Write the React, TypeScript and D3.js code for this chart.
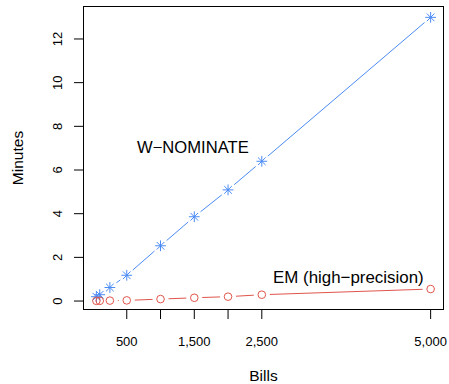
import React from 'react';
import * as d3 from 'd3';

// bills in the roll-call sample
const bills = [50, 100, 250, 500, 1000, 1500, 2000, 2500, 5000];
// minutes taken by each method
const wnominate = [0.2, 0.29, 0.62, 1.18, 2.53, 3.86, 5.09, 6.4, 12.99];
const emHigh = [0.01, 0.01, 0.02, 0.03, 0.09, 0.15, 0.2, 0.29, 0.55];

const xTicks = [500, 1000, 1500, 2000, 2500, 5000];
const xTickLabels = ['500', '', '1,500', '', '2,500', '5,000'];
const yTicks = [0, 2, 4, 6, 8, 10, 12];

const W = 449;
const H = 384;
const plot = { left: 83, right: 444, top: 6, bottom: 310 };
const blue = '#4b8bf4';
const red = '#e0554b';
const font = 'Liberation Sans, Arial, Helvetica, sans-serif';

// R-style type="b": segments between points, with a gap round each point
function gappedSegments(pts: [number, number][], gap: number) {
  const segs: string[] = [];
  for (let i = 0; i < pts.length - 1; i++) {
    const [x0, y0] = pts[i];
    const [x1, y1] = pts[i + 1];
    const len = Math.hypot(x1 - x0, y1 - y0);
    if (len <= 2 * gap) continue;
    const ux = (x1 - x0) / len;
    const uy = (y1 - y0) / len;
    segs.push(
      `M${x0 + ux * gap},${y0 + uy * gap}L${x1 - ux * gap},${y1 - uy * gap}`
    );
  }
  return segs.join('');
}

export default function App() {
  const ext = (5000 - 50) * 0.04;
  const x = d3.scaleLinear().domain([50 - ext, 5000 + ext]).range([plot.left, plot.right]);
  const y = d3.scaleLinear().domain([-0.41, 13.51]).range([plot.bottom, plot.top]);

  const wPts = bills.map((b, i) => [x(b), y(wnominate[i])] as [number, number]);
  const ePts = bills.map((b, i) => [x(b), y(emHigh[i])] as [number, number]);
  const r = 3.8;
  const s = r * Math.SQRT2;

  return (
    <svg width={W} height={H} style={{ position: 'absolute', left: 0, top: 0, background: '#fff' }}>
      {/* lines */}
      <path d={gappedSegments(wPts, 8)} stroke={blue} strokeWidth={1} fill="none" />
      <path d={gappedSegments(ePts, 8)} stroke={red} strokeWidth={1} fill="none" />

      {/* asterisks */}
      {wPts.map(([px, py], i) => (
        <path
          key={'w' + i}
          d={`M${px - s},${py}H${px + s}M${px},${py - s}V${py + s}M${px - r},${py - r}L${px + r},${py + r}M${px - r},${py + r}L${px + r},${py - r}`}
          stroke={blue}
          strokeWidth={1}
          fill="none"
        />
      ))}
      {/* circles */}
      {ePts.map(([px, py], i) => (
        <circle key={'e' + i} cx={px} cy={py} r={r} stroke={red} strokeWidth={1} fill="none" />
      ))}

      {/* box */}
      <rect
        x={plot.left + 0.5}
        y={plot.top + 0.5}
        width={plot.right - plot.left - 1}
        height={plot.bottom - plot.top - 1}
        fill="none"
        stroke="#000"
        strokeWidth={1}
      />

      {/* x axis */}
      <g fontFamily={font} fontSize={13} fill="#000">
        {xTicks.map((t, i) => (
          <g key={t}>
            <line x1={x(t)} x2={x(t)} y1={plot.bottom} y2={plot.bottom + 9} stroke="#000" />
            <text x={x(t)} y={346} textAnchor="middle">{xTickLabels[i]}</text>
          </g>
        ))}
      </g>

      {/* y axis */}
      <g fontFamily={font} fontSize={13} fill="#000">
        {yTicks.map((t) => (
          <g key={t}>
            <line x1={plot.left - 9} x2={plot.left} y1={y(t)} y2={y(t)} stroke="#000" />
            <text
              transform={`translate(61.5,${y(t)}) rotate(-90)`}
              textAnchor="middle"
            >
              {t}
            </text>
          </g>
        ))}
      </g>

      {/* axis titles */}
      <text x={(plot.left + plot.right) / 2} y={381} textAnchor="middle" fontFamily={font} fontSize={15.5}>
        Bills
      </text>
      <text
        transform={`translate(22.5,${(plot.top + plot.bottom) / 2}) rotate(-90)`}
        textAnchor="middle"
        fontFamily={font}
        fontSize={15.5}
      >
        Minutes
      </text>

      {/* annotations */}
      <text x={137} y={153} fontFamily={font} fontSize={16.6}>W−NOMINATE</text>
      <text x={273} y={283} fontFamily={font} fontSize={16.9}>EM (high−precision)</text>
    </svg>
  );
}
